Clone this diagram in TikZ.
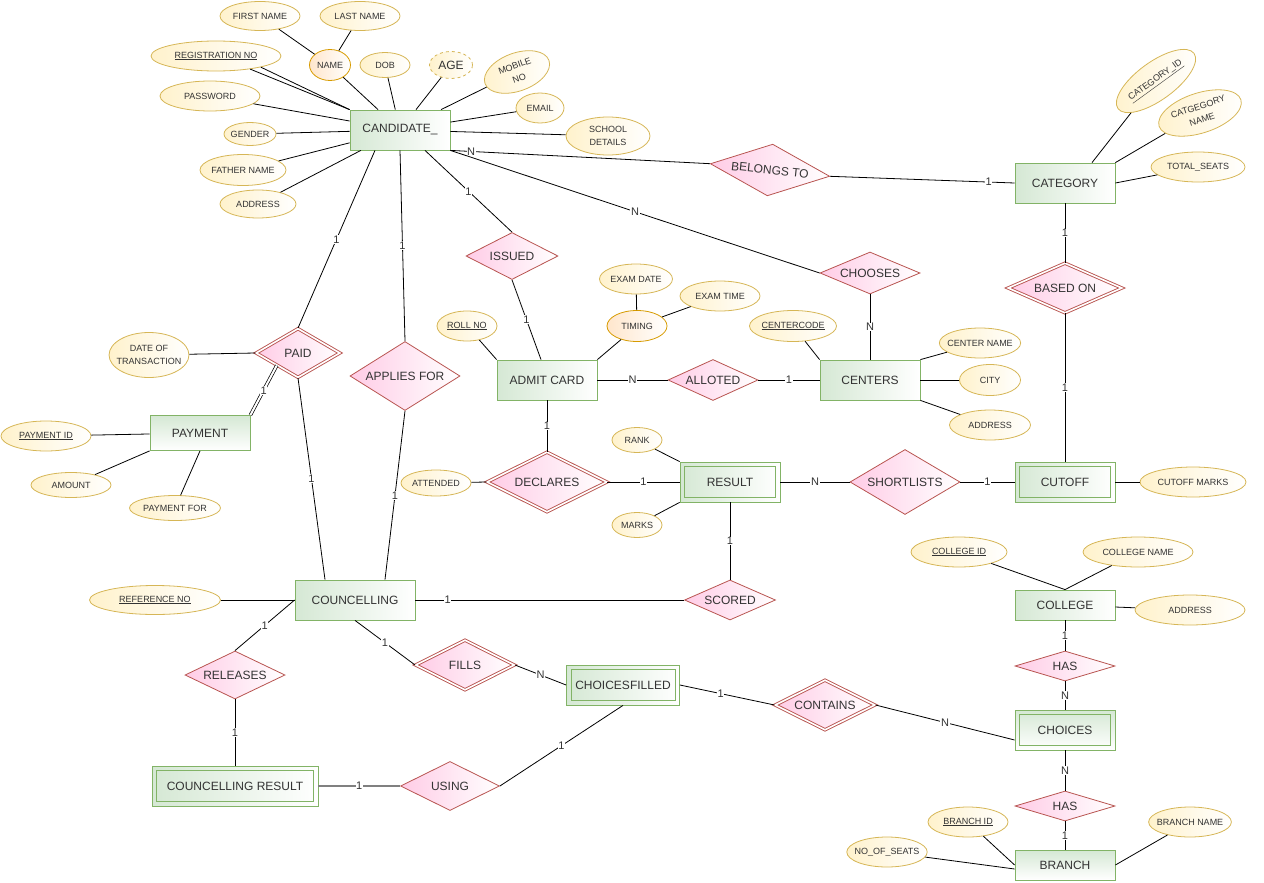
\documentclass[tikz,border=0pt]{standalone}
\usepackage{fontspec}
\setmainfont{Liberation Sans}
\usetikzlibrary{shapes.geometric}
\definecolor{entgreen}{HTML}{82B366}
\definecolor{entfill}{HTML}{D5E8D4}
\definecolor{relred}{HTML}{B85450}
\definecolor{relfill}{HTML}{FFCCE6}
\definecolor{attrline}{HTML}{D6B656}
\definecolor{attrfill}{HTML}{FFF2CC}
\definecolor{compline}{HTML}{D79B00}
\definecolor{compfill}{HTML}{FFE6CC}
\definecolor{txt}{HTML}{333333}

\begin{document}
\begin{tikzpicture}[x=1pt,y=-1pt,line width=0.8pt]
		\tikzstyle{entity}=[rectangle, draw=entgreen, left color=entfill, right color=white, minimum width=100pt, minimum height=40pt, text=txt, font=\fontsize{12}{14}\selectfont]
		\tikzstyle{vgrad}=[top color=entfill, bottom color=white]
		\tikzstyle{weak entity}=[entity, path picture={\draw[entgreen] ([shift={(4.5pt,-4.5pt)}]path picture bounding box.north west) rectangle ([shift={(-4.5pt,4.5pt)}]path picture bounding box.south east);}]
		\tikzstyle{rel}=[diamond, draw=relred, left color=relfill, right color=white, inner sep=0pt, text=txt, font=\fontsize{12}{14}\selectfont]
		\tikzstyle{weak rel}=[rel, double=white, double distance=1.6pt, line width=0.9pt]
		\tikzstyle{attr}=[ellipse, draw=attrline, left color=attrfill, right color=white, inner xsep=-4pt, inner ysep=0pt, text=txt, font=\fontsize{9}{13}\selectfont]
		\tikzstyle{composite attr}=[attr, draw=compline, left color=compfill]
		\tikzstyle{card}=[fill=white, inner sep=0.6pt, text=txt, font=\fontsize{11}{12}\selectfont]

		\useasboundingbox (0,0) rectangle (1264,883);

		% entities
		\node [entity] (cand) at (400,130) {CANDIDATE\_};
		\node [entity] (cat) at (1065,183) {CATEGORY};
		\node [entity, vgrad, minimum height=35pt] (pay) at (200,433) {PAYMENT};
		\node [entity] (admit) at (547,380) {ADMIT CARD};
		\node [entity] (cent) at (870,380) {CENTERS};
		\node [weak entity] (res) at (730,482) {RESULT};
		\node [weak entity] (cut) at (1065,482) {CUTOFF};
		\node [entity, minimum width=120pt] (counc) at (355,600) {COUNCELLING};
		\node [weak entity, minimum width=166pt] (cres) at (235,786) {COUNCELLING RESULT};
		\node [weak entity, minimum width=113pt] (cfill) at (623,685) {CHOICESFILLED};
		\node [entity, minimum height=30pt] (coll) at (1065,605) {COLLEGE};
		\node [weak entity, vgrad] (choice) at (1065,730) {CHOICES};
		\node [entity, vgrad, minimum height=30pt] (branch) at (1065,865) {BRANCH};

		% relationships
		\node [rel, minimum width=120pt, minimum height=52pt, aspect=2.3, rotate=-6] (belong) at (770,170) {BELONGS TO};
		\node [rel, minimum width=92pt, minimum height=47pt, aspect=1.96] (issue) at (512,256) {ISSUED};
		\node [rel, minimum width=100pt, minimum height=42pt, aspect=2.38] (choose) at (870,273) {CHOOSES};
		\node [weak rel, minimum width=114pt, minimum height=50pt, aspect=2.28] (based) at (1065,288) {BASED ON};
		\node [weak rel, minimum width=84pt, minimum height=49pt, aspect=1.71] (paid) at (298,353) {PAID};
		\node [rel, minimum width=110pt, minimum height=69pt, aspect=1.6] (apply) at (405,376) {APPLIES FOR};
		\node [rel, minimum width=90pt, minimum height=41pt, aspect=2.2] (allot) at (713,380) {ALLOTED};
		\node [weak rel, minimum width=120pt, minimum height=60pt, aspect=2] (declare) at (547,482) {DECLARES};
		\node [rel, minimum width=110pt, minimum height=65pt, aspect=1.7] (short) at (905,482) {SHORTLISTS};
		\node [rel, minimum width=91pt, minimum height=40pt, aspect=2.28] (score) at (730,600) {SCORED};
		\node [weak rel, minimum width=99pt, minimum height=50pt, aspect=1.98] (fill) at (465,665) {FILLS};
		\node [rel, minimum width=100pt, minimum height=48pt, aspect=2.08] (release) at (235,675) {RELEASES};
		\node [rel, minimum width=99pt, minimum height=49pt, aspect=2.02] (use) at (450,786) {USING};
		\node [weak rel, minimum width=100pt, minimum height=50pt, aspect=2] (contain) at (825,705) {CONTAINS};
		\node [rel, minimum width=100pt, minimum height=30pt, aspect=3.33] (has1) at (1065,666) {HAS};
		\node [rel, minimum width=100pt, minimum height=30pt, aspect=3.33] (has2) at (1065,806) {HAS};

		% attributes
		\node [composite attr, minimum width=41pt, minimum height=31pt] (name) at (330,65) {NAME} edge (cand);
		\node [attr, minimum width=80pt, minimum height=29pt] (fname) at (260,16) {FIRST NAME} edge (name);
		\node [attr, minimum width=80pt, minimum height=29pt] (lname) at (360,16) {LAST NAME} edge (name);
		\node [attr, minimum width=130pt, minimum height=30pt] (regno) at (216,56) {\underline{REGISTRATION NO}};
		\draw (regno.-14) -- (cand.north west);
		\draw (regno.-21) -- (cand.north west);
		\node [attr, minimum width=50pt, minimum height=25pt] (dob) at (385,65) {DOB} edge (cand);
		\node [attr, dashed, minimum width=43pt, minimum height=27pt, font=\fontsize{12}{14}\selectfont] (age) at (451,65) {AGE} edge (cand);
		\node [attr, rotate=20, align=center, minimum width=68pt, minimum height=38pt] (mobile) at (517,72) {MOBILE\\NO} edge (cand);
		\node [attr, minimum width=100pt, minimum height=30pt] (pass) at (210,96) {PASSWORD} edge (cand);
		\node [attr, minimum width=48pt, minimum height=30pt] (email) at (540,108) {EMAIL} edge (cand);
		\node [attr, minimum width=52pt, minimum height=23pt] (gender) at (250,134) {GENDER} edge (cand);
		\node [attr, minimum width=86pt, minimum height=31pt] (father) at (243,170) {FATHER NAME} edge (cand);
		\node [attr, minimum width=76pt, minimum height=28pt] (addr) at (258,204) {ADDRESS} edge (cand);
		\node [attr, align=center, minimum width=84pt, minimum height=38pt] (school) at (608,136) {SCHOOL\\DETAILS} edge (cand);

		\node [attr, rotate=36, minimum width=94pt, minimum height=38pt] (catid) at (1156,81) {\underline{CATEGORY\_ID}} edge ([xshift=27pt]cat.north);
		\node [attr, rotate=18, align=center, minimum width=86pt, minimum height=40pt] (catname) at (1200,113) {CATGEGORY\\NAME} edge (cat.north east);
		\node [attr, minimum width=94pt, minimum height=30pt] (seats) at (1198,167) {TOTAL\_SEATS} edge (cat.east);

		\node [attr, minimum width=60pt, minimum height=30pt] (roll) at (467,326) {\underline{ROLL NO}} edge (admit.north west);
		\node [composite attr, minimum width=60pt, minimum height=31pt] (timing) at (637,326) {TIMING} edge (admit.north east);
		\node [attr, minimum width=73pt, minimum height=30pt] (edate) at (636,279) {EXAM DATE} edge (timing);
		\node [attr, minimum width=80pt, minimum height=30pt] (etime) at (720,296) {EXAM TIME} edge (timing);

		\node [attr, minimum width=87pt, minimum height=31pt] (ccode) at (793,326) {\underline{CENTERCODE}} edge (cent.north west);
		\node [attr, minimum width=81pt, minimum height=30pt] (cname) at (980,343) {CENTER NAME} edge (cent.north east);
		\node [attr, minimum width=61pt, minimum height=31pt] (city) at (990,380) {CITY} edge (cent.east);
		\node [attr, minimum width=81pt, minimum height=30pt] (caddr) at (990,425) {ADDRESS} edge (cent.south east);

		\node [attr, minimum width=50pt, minimum height=25pt] (rank) at (637,440) {RANK} edge (res.north west);
		\node [attr, minimum width=50pt, minimum height=25pt] (marks) at (637,525) {MARKS} edge (res.south west);
		\node [attr, minimum width=70pt, minimum height=26pt] (attend) at (436,483) {ATTENDED} edge (declare.west);
		\node [attr, minimum width=106pt, minimum height=30pt] (cutm) at (1193,482) {CUTOFF MARKS} edge (cut);

		\node [attr, align=center, minimum width=78pt, minimum height=45pt] (dot) at (149,355) {DATE OF\\TRANSACTION} edge (paid.west);
		\node [attr, minimum width=90pt, minimum height=30pt] (payid) at (46,436) {\underline{PAYMENT ID}} edge (pay);
		\node [attr, minimum width=80pt, minimum height=25pt] (amount) at (71,485) {AMOUNT} edge (pay.south west);
		\node [attr, minimum width=91pt, minimum height=25pt] (payfor) at (175,508) {PAYMENT FOR} edge (pay.south);
		\node [attr, minimum width=131pt, minimum height=29pt] (refno) at (155,600) {\underline{REFERENCE NO}} edge (counc);

		\node [attr, minimum width=96pt, minimum height=30pt] (collid) at (959,552) {\underline{COLLEGE ID}} edge (coll.north);
		\node [attr, minimum width=110pt, minimum height=30pt] (collname) at (1138,552) {COLLEGE NAME} edge (coll.north);
		\node [attr, minimum width=110pt, minimum height=30pt] (colladdr) at (1190,610) {ADDRESS} edge (coll);
		\node [attr, minimum width=80pt, minimum height=30pt] (brid) at (968,822) {\underline{BRANCH ID}} edge (branch.west);
		\node [attr, minimum width=80pt, minimum height=30pt] (brname) at (1190,822) {BRANCH NAME} edge (branch.east);
		\node [attr, minimum width=80pt, minimum height=30pt] (noseats) at (887,852) {NO\_OF\_SEATS} edge ([yshift=-4pt]branch.west);

		% relationship lines
		\draw (cand.south east) -- node[card, pos=0.08] {N} (belong.west);
		\draw (belong.east) -- node[card, pos=0.86] {1} (cat.west);
		\draw (cand.south east) -- node[card] {N} (choose.west);
		\draw ([xshift=25pt]cand.south) -- node[card] {1} (issue.north);
		\draw (issue.south) -- node[card] {1} ([xshift=-6pt]admit.north);
		\draw ([xshift=-25pt]cand.south) -- node[card] {1} (paid.north);
		\draw (cand.south) -- node[card] {1} (apply.north);
		\draw [double, double distance=2pt, line width=0.7pt] (paid.south west) -- node[card] {1} (pay.north east);
		\draw (paid.south) -- node[card] {1} ([xshift=-30pt]counc.north);
		\draw (apply.south) -- node[card] {1} ([xshift=30pt]counc.north);
		\draw (admit) -- node[card] {N} (allot);
		\draw (allot) -- node[card] {1} (cent);
		\draw (choose) -- node[card] {N} (cent);
		\draw (admit) -- node[card] {1} (declare);
		\draw (declare) -- node[card] {1} (res);
		\draw (res) -- node[card] {N} (short);
		\draw (short) -- node[card] {1} (cut);
		\draw (cut) -- node[card] {1} (based);
		\draw (based) -- node[card] {1} (cat);
		\draw (res) -- node[card] {1} (score);
		\draw (counc) -- node[card, pos=0.12] {1} (score);
		\draw (counc.west) -- node[card] {1} (release.north);
		\draw (release) -- node[card] {1} (cres);
		\draw [gray, line width=1.6pt] (cres) -- node[card] {1} (use);
		\draw (use.east) -- node[card] {1} (cfill.south);
		\draw (counc.south) -- node[card] {1} (fill.west);
		\draw (fill.east) -- node[card] {N} (cfill.west);
		\draw (cfill.east) -- node[card, pos=0.43] {1} (contain.west);
		\draw (contain.east) -- node[card] {N} ([yshift=-10pt]choice.west);
		\draw (coll) -- node[card] {1} (has1);
		\draw (has1) -- node[card] {N} (choice);
		\draw (choice) -- node[card] {N} (has2);
		\draw (has2) -- node[card] {1} (branch);
	\end{tikzpicture}
\end{document}
